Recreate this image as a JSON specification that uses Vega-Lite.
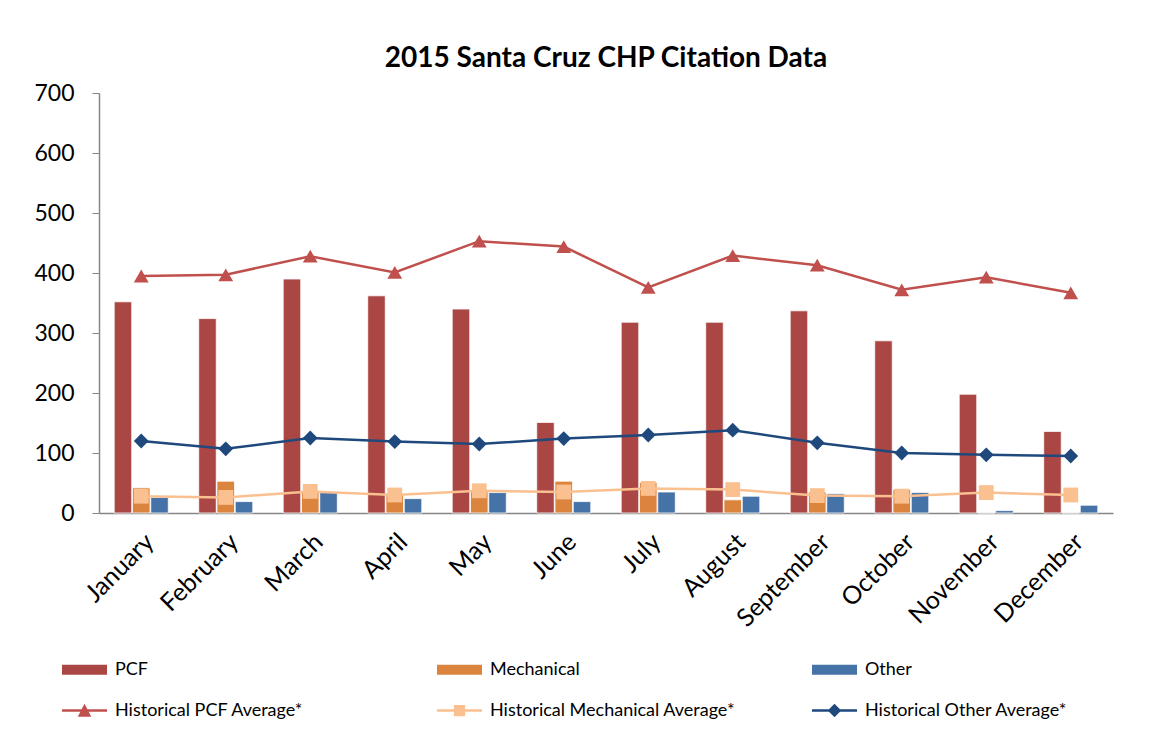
{
  "$schema": "https://vega.github.io/schema/vega-lite/v6.json",
  "width": 1014,
  "height": 420,
  "autosize": "none",
  "padding": {"left": 99, "top": 93, "right": 38, "bottom": 226},
  "background": "white",
  "title": {"text": "2015 Santa Cruz CHP Citation Data", "font": "Lato", "fontSize": 28, "fontWeight": "bold", "color": "#000000", "anchor": "middle", "offset": 9},
  "config": {"view": {"stroke": null}, "font": "Lato"},
  "datasets": {
    "bars": [
      {"month": "January", "series": "PCF", "value": 352},
      {"month": "February", "series": "PCF", "value": 324},
      {"month": "March", "series": "PCF", "value": 390},
      {"month": "April", "series": "PCF", "value": 362},
      {"month": "May", "series": "PCF", "value": 340},
      {"month": "June", "series": "PCF", "value": 151},
      {"month": "July", "series": "PCF", "value": 318},
      {"month": "August", "series": "PCF", "value": 318},
      {"month": "September", "series": "PCF", "value": 337},
      {"month": "October", "series": "PCF", "value": 287},
      {"month": "November", "series": "PCF", "value": 198},
      {"month": "December", "series": "PCF", "value": 136},
      {"month": "January", "series": "Mechanical", "value": 42},
      {"month": "February", "series": "Mechanical", "value": 53},
      {"month": "March", "series": "Mechanical", "value": 37},
      {"month": "April", "series": "Mechanical", "value": 31},
      {"month": "May", "series": "Mechanical", "value": 38},
      {"month": "June", "series": "Mechanical", "value": 53},
      {"month": "July", "series": "Mechanical", "value": 51},
      {"month": "August", "series": "Mechanical", "value": 22},
      {"month": "September", "series": "Mechanical", "value": 35},
      {"month": "October", "series": "Mechanical", "value": 39},
      {"month": "November", "series": "Mechanical", "value": 0},
      {"month": "December", "series": "Mechanical", "value": 0},
      {"month": "January", "series": "Other", "value": 26},
      {"month": "February", "series": "Other", "value": 19},
      {"month": "March", "series": "Other", "value": 34},
      {"month": "April", "series": "Other", "value": 24},
      {"month": "May", "series": "Other", "value": 34},
      {"month": "June", "series": "Other", "value": 19},
      {"month": "July", "series": "Other", "value": 35},
      {"month": "August", "series": "Other", "value": 28},
      {"month": "September", "series": "Other", "value": 32},
      {"month": "October", "series": "Other", "value": 34},
      {"month": "November", "series": "Other", "value": 4},
      {"month": "December", "series": "Other", "value": 13}
    ],
    "avgs": [
      {"month": "January", "series": "Historical PCF Average*", "value": 395},
      {"month": "February", "series": "Historical PCF Average*", "value": 397},
      {"month": "March", "series": "Historical PCF Average*", "value": 428},
      {"month": "April", "series": "Historical PCF Average*", "value": 401},
      {"month": "May", "series": "Historical PCF Average*", "value": 453},
      {"month": "June", "series": "Historical PCF Average*", "value": 444},
      {"month": "July", "series": "Historical PCF Average*", "value": 376},
      {"month": "August", "series": "Historical PCF Average*", "value": 429},
      {"month": "September", "series": "Historical PCF Average*", "value": 413},
      {"month": "October", "series": "Historical PCF Average*", "value": 372},
      {"month": "November", "series": "Historical PCF Average*", "value": 393},
      {"month": "December", "series": "Historical PCF Average*", "value": 367},
      {"month": "January", "series": "Historical Mechanical Average*", "value": 28},
      {"month": "February", "series": "Historical Mechanical Average*", "value": 26},
      {"month": "March", "series": "Historical Mechanical Average*", "value": 36},
      {"month": "April", "series": "Historical Mechanical Average*", "value": 30},
      {"month": "May", "series": "Historical Mechanical Average*", "value": 37},
      {"month": "June", "series": "Historical Mechanical Average*", "value": 35},
      {"month": "July", "series": "Historical Mechanical Average*", "value": 41},
      {"month": "August", "series": "Historical Mechanical Average*", "value": 39},
      {"month": "September", "series": "Historical Mechanical Average*", "value": 29},
      {"month": "October", "series": "Historical Mechanical Average*", "value": 28},
      {"month": "November", "series": "Historical Mechanical Average*", "value": 34},
      {"month": "December", "series": "Historical Mechanical Average*", "value": 30},
      {"month": "January", "series": "Historical Other Average*", "value": 120},
      {"month": "February", "series": "Historical Other Average*", "value": 107},
      {"month": "March", "series": "Historical Other Average*", "value": 125},
      {"month": "April", "series": "Historical Other Average*", "value": 119},
      {"month": "May", "series": "Historical Other Average*", "value": 115},
      {"month": "June", "series": "Historical Other Average*", "value": 124},
      {"month": "July", "series": "Historical Other Average*", "value": 130},
      {"month": "August", "series": "Historical Other Average*", "value": 138},
      {"month": "September", "series": "Historical Other Average*", "value": 117},
      {"month": "October", "series": "Historical Other Average*", "value": 100},
      {"month": "November", "series": "Historical Other Average*", "value": 97},
      {"month": "December", "series": "Historical Other Average*", "value": 95}
    ]
  },
  "encoding": {
    "x": {
      "field": "month", "type": "nominal",
      "sort": ["January","February","March","April","May","June","July","August","September","October","November","December"],
      "scale": {"paddingInner": 0.36, "paddingOuter": 0.18},
      "axis": {"title": null, "labelAngle": -45, "labelFont": "Lato", "labelFontSize": 25, "labelColor": "#000000", "ticks": false, "labelPadding": 16, "domainColor": "#868686", "domainWidth": 1.5, "grid": false}
    },
    "y": {
      "field": "value", "type": "quantitative",
      "scale": {"domain": [0, 700], "nice": false},
      "axis": {"title": null, "values": [0,100,200,300,400,500,600,700], "labelFont": "Lato", "labelFontSize": 23, "labelColor": "#000000", "tickSize": 7, "tickColor": "#868686", "domainColor": "#868686", "domainWidth": 1.5, "labelPadding": 18, "grid": false}
    },
    "color": {
      "field": "series", "type": "nominal",
      "scale": {
        "domain": ["PCF","Mechanical","Other","Historical PCF Average*","Historical Mechanical Average*","Historical Other Average*"],
        "range": ["#AA4643","#DB843D","#4572A7","#C0504D","#FAC090","#1F497D"]
      },
      "legend": {
        "title": null,
        "orient": "none",
        "legendX": -37,
        "legendY": 554,
        "direction": "horizontal",
        "columns": 3,
        "gridAlign": "all",
        "columnPadding": 76,
        "rowPadding": 9,
        "symbolSize": 2025,
        "symbolStrokeWidth": 0,
        "symbolOpacity": 1,
        "labelFont": "Lato",
        "labelFontSize": 18,
        "labelColor": "#000000",
        "labelOffset": 8,
        "labelLimit": 400,
        "encode": {
          "symbols": {
            "update": {
              "shape": {"signal": "(datum.value === 'PCF' || datum.value === 'Mechanical' || datum.value === 'Other') ? 'M-1,-0.22H1V0.22H-1Z' : datum.value === 'Historical PCF Average*' ? 'M-1,-0.06H1V0.06H-1Z M-0.3,0.28L0,-0.3L0.3,0.28Z' : datum.value === 'Historical Mechanical Average*' ? 'M-1,-0.06H1V0.06H-1Z M-0.25,-0.25H0.25V0.25H-0.25Z' : 'M-1,-0.06H1V0.06H-1Z M0,-0.3L0.3,0L0,0.3L-0.3,0Z'"},
              "fill": {"scale": "color", "field": "value"},
              "stroke": {"value": "transparent"},
              "strokeWidth": {"value": 0},
              "opacity": {"value": 1}
            }
          }
        }
      }
    }
  },
  "layer": [
    {
      "data": {"name": "bars"},
      "mark": {"type": "bar", "stroke": "white", "strokeWidth": 0.8},
      "encoding": {
        "xOffset": {"field": "series", "type": "nominal", "scale": {"domain": ["PCF","Mechanical","Other"], "paddingInner": 0.04}}
      }
    },
    {
      "data": {"name": "avgs"},
      "mark": {"type": "line", "strokeWidth": 2.5},
      "encoding": {}
    },
    {
      "data": {"name": "avgs"},
      "mark": {"type": "point", "filled": true, "opacity": 1, "size": 220},
      "encoding": {
        "shape": {"field": "series", "type": "nominal", "scale": {"domain": ["Historical PCF Average*","Historical Mechanical Average*","Historical Other Average*"], "range": ["triangle-up","square","diamond"]}, "legend": null}
      }
    }
  ]
}
